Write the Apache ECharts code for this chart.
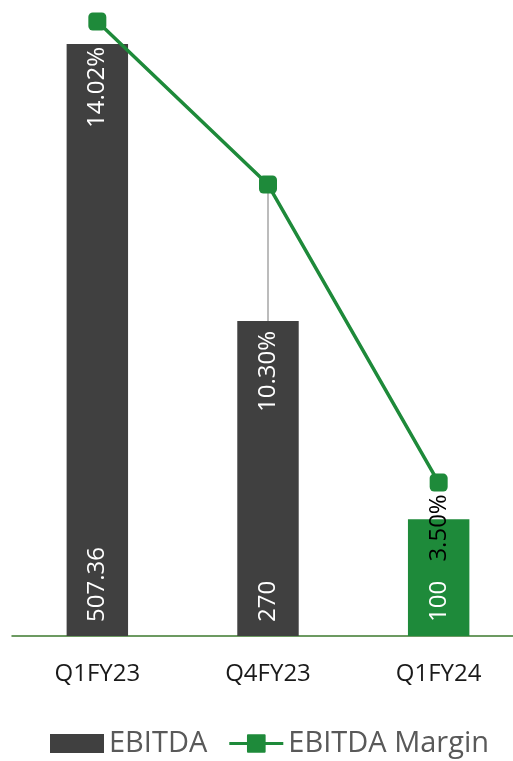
<!DOCTYPE html>
<html>
<head>
<meta charset="utf-8">
<style>
  html, body { margin: 0; padding: 0; background: #ffffff; }
  #chart { width: 513px; height: 761px; }
</style>
<script src="https://cdn.jsdelivr.net/npm/echarts@6/dist/echarts.min.js"></script>
</head>
<body>
<div id="chart"></div>
<script>
// Quarterly EBITDA (bars) and EBITDA margin in % (line)
const quarters = ['Q1FY23', 'Q4FY23', 'Q1FY24'];
const ebitda = [507.36, 270, 100];
const ebitdaMargin = [14.02, 10.30, 3.50];
// quarters whose margin label sits away from its marker and gets a guide line
const guideLineQuarters = ['Q4FY23'];

const DARK = '#404040';
const GREEN = '#1e8a3a';
const FONT = '"Open Sans", "Noto Sans", sans-serif';

const AMOUNT_MAX = 545;
const MARGIN_MAX = 14.51;

// margin label gap below each bar top (negative lifts it above the bar)
const marginLabelGap = [3, 10, -25];

const barColors = quarters.map((q, i) => (i === quarters.length - 1 ? GREEN : DARK));

// legend glyph for the margin line: a line with a square marker on it
const LINE_MARKER_ICON =
  'path://M0,8H18V1Q18,0 19,0H36Q37,0 37,1V8H55V11H37V18Q37,19 36,19H19Q18,19 18,18V11H0Z';

const chart = echarts.init(document.getElementById('chart'), null, { renderer: 'canvas' });

const option = {
  animation: false,
  textStyle: { fontFamily: FONT },
  grid: {
    left: 12, width: 512, top: 0, bottom: 125,
    containLabel: false, outerBoundsMode: 'none'
  },
  legend: {
    data: [
      { name: 'EBITDA', icon: 'rect' },
      { name: 'EBITDA Margin', icon: LINE_MARKER_ICON }
    ],
    left: 45,
    top: 724,
    itemWidth: 54,
    itemHeight: 19,
    itemGap: 22,
    textStyle: { fontSize: 29, color: '#595959', fontFamily: FONT }
  },
  xAxis: {
    type: 'category',
    data: quarters,
    axisTick: { show: false },
    axisLine: { lineStyle: { color: '#3d7a2e', width: 1.5 } },
    axisLabel: { fontSize: 24, color: '#1a1a1a', margin: 26, fontFamily: FONT }
  },
  yAxis: [
    { type: 'value', min: 0, max: AMOUNT_MAX, show: false, splitLine: { show: false } },
    { type: 'value', min: 0, max: MARGIN_MAX, show: false, splitLine: { show: false } }
  ],
  series: [
    {
      name: 'EBITDA',
      type: 'bar',
      yAxisIndex: 0,
      barWidth: '36%',
      data: ebitda.map((v, i) => ({ value: v, itemStyle: { color: barColors[i] } })),
      itemStyle: { color: DARK },
      label: {
        show: true,
        position: 'insideBottom',
        distance: 14,
        rotate: 90,
        align: 'left',
        verticalAlign: 'middle',
        color: '#ffffff',
        fontSize: 24,
        fontFamily: FONT,
        formatter: (p) => String(p.value)
      },
      z: 2
    },
    {
      // carrier for the margin labels at the top of each bar
      name: 'marginLabels',
      type: 'bar',
      yAxisIndex: 0,
      barWidth: '36%',
      barGap: '-100%',
      silent: true,
      itemStyle: { color: 'rgba(0,0,0,0)' },
      data: ebitda.map((v, i) => {
        const item = { value: v, label: { distance: marginLabelGap[i] } };
        if (i === quarters.length - 1) {
          item.label.color = '#000000';
        }
        return item;
      }),
      label: {
        show: true,
        position: 'insideTop',
        rotate: 90,
        align: 'right',
        verticalAlign: 'middle',
        color: '#ffffff',
        fontSize: 24,
        fontFamily: FONT,
        formatter: (p) => ebitdaMargin[p.dataIndex].toFixed(2) + '%'
      },
      z: 3
    },
    {
      // thin guide line from a margin marker down to its label
      name: 'guide',
      type: 'custom',
      yAxisIndex: 0,
      silent: true,
      data: guideLineQuarters.map((q) => {
        const i = quarters.indexOf(q);
        return [i, ebitda[i], ebitdaMargin[i]];
      }),
      renderItem: (params, api) => {
        const top = api.coord([api.value(0), api.value(1)]);
        const marker = api.coord([api.value(0), api.value(2) * AMOUNT_MAX / MARGIN_MAX]);
        return {
          type: 'line',
          shape: { x1: top[0], y1: top[1], x2: marker[0], y2: marker[1] },
          style: { stroke: '#a6a6a6', lineWidth: 1.5 }
        };
      },
      z: 4
    },
    {
      name: 'EBITDA Margin',
      type: 'line',
      yAxisIndex: 1,
      data: ebitdaMargin,
      symbol: 'roundRect',
      symbolSize: 18,
      lineStyle: { color: GREEN, width: 3.5 },
      itemStyle: { color: GREEN },
      label: { show: false },
      z: 5
    }
  ]
};

chart.setOption(option);
</script>
</body>
</html>
